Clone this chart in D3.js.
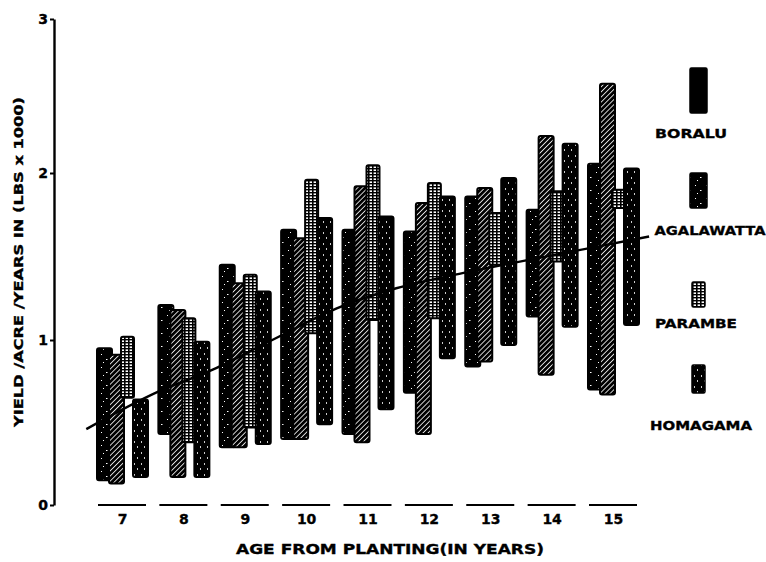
<!DOCTYPE html>
<html>
<head>
<meta charset="utf-8">
<script src="https://cdn.jsdelivr.net/npm/d3@7"></script>
<style>
  html, body { margin: 0; padding: 0; background: #fff; }
  svg { display: block; }
  text { font-family: "DejaVu Sans", "Liberation Sans", Arial, sans-serif; font-weight: bold; fill: #000; stroke: #000; stroke-width: 0.35; }
</style>
</head>
<body>
<svg id="chart" width="766" height="562"></svg>
<script>
// ---- data ----
const ages = [7, 8, 9, 10, 11, 12, 13, 14, 15];
const seriesNames = ["BORALU", "AGALAWATTA", "PARAMBE", "HOMAGAMA"];
const boraluLow  = [0.15, 0.43, 0.35, 0.40, 0.43, 0.68, 0.84, 1.14, 0.70];
const boraluHigh = [0.95, 1.21, 1.45, 1.66, 1.66, 1.65, 1.86, 1.78, 2.06];
const agalLow    = [0.13, 0.17, 0.35, 0.40, 0.38, 0.43, 0.87, 0.79, 0.67];
const agalHigh   = [0.91, 1.18, 1.34, 1.61, 1.92, 1.82, 1.91, 2.24, 2.58];
const paramLow   = [0.65, 0.38, 0.47, 1.04, 1.12, 1.13, 1.45, 1.47, 1.79];
const paramHigh  = [1.02, 1.13, 1.39, 1.96, 2.05, 1.94, 1.76, 1.89, 1.90];
const homaLow    = [0.17, 0.17, 0.37, 0.49, 0.58, 0.89, 0.97, 1.08, 1.09];
const homaHigh   = [0.64, 0.99, 1.29, 1.73, 1.74, 1.86, 1.97, 2.19, 2.03];
const trendAge   = [6.41, 7.6, 8.47, 9.44, 10.49, 11.46, 12.54, 14.61, 15.58];
const trendVal   = [0.46, 0.69, 0.82, 1.00, 1.19, 1.31, 1.40, 1.55, 1.62];
const yTicks = [0, 1, 2, 3];
const yTitle = "YIELD /ACRE /YEARS  IN (LBS x 1000)";
const xTitle = "AGE FROM PLANTING(IN YEARS)";

const lows = [boraluLow, agalLow, paramLow, homaLow];
const highs = [boraluHigh, agalHigh, paramHigh, homaHigh];

const svg = d3.select("#chart");

// ---- patterns ----
const defs = svg.append("defs");
const pSpeck = defs.append("pattern").attr("id", "speck").attr("patternUnits", "userSpaceOnUse")
  .attr("width", 11).attr("height", 13);
pSpeck.append("rect").attr("width", 11).attr("height", 13).attr("fill", "#000");
[[2,3,1,1],[7,8,1.5,1],[4,11,1,1]].forEach(d =>
  pSpeck.append("rect").attr("x", d[0]).attr("y", d[1]).attr("width", d[2]).attr("height", d[3]).attr("fill", "#fff"));

const pHatch = defs.append("pattern").attr("id", "hatch").attr("patternUnits", "userSpaceOnUse")
  .attr("width", 3.6).attr("height", 3.6).attr("patternTransform", "rotate(45)");
pHatch.append("rect").attr("width", 3.6).attr("height", 3.6).attr("fill", "#000");
pHatch.append("rect").attr("x", 0).attr("width", 0.8).attr("height", 3.6).attr("fill", "#fff");

const pGrid = defs.append("pattern").attr("id", "grid").attr("patternUnits", "userSpaceOnUse")
  .attr("width", 4).attr("height", 3);
pGrid.append("rect").attr("width", 4).attr("height", 3).attr("fill", "#fff");
pGrid.append("rect").attr("width", 4).attr("height", 1.4).attr("fill", "#000");
pGrid.append("rect").attr("width", 1.6).attr("height", 3).attr("fill", "#000");

const pDash = defs.append("pattern").attr("id", "dash").attr("patternUnits", "userSpaceOnUse")
  .attr("width", 7).attr("height", 11);
pDash.append("rect").attr("width", 7).attr("height", 11).attr("fill", "#000");
[[1,1,0.8,2],[4,6,0.8,2]].forEach(d =>
  pDash.append("rect").attr("x", d[0]).attr("y", d[1]).attr("width", d[2]).attr("height", d[3]).attr("fill", "#fff"));

const fills = ["url(#speck)", "url(#hatch)", "url(#grid)", "url(#dash)"];
const widths = [15, 15, 13, 15];

// ---- scales ----
const y = d3.scaleLinear().domain([0, 1, 2, 3]).range([505, 340, 173, 19]);
const x = d3.scaleBand().domain(ages).range([97, 639]).paddingInner(0.169).paddingOuter(0);
const sub = d3.scalePoint().domain(seriesNames).range([0, 36]);
const xLin = d3.scaleLinear().domain([7, 15])
  .range([x(7) + x.bandwidth() / 2, x(15) + x.bandwidth() / 2]);

// ---- y axis ----
const yAxis = svg.append("g").attr("transform", "translate(54,0)")
  .call(d3.axisLeft(y).tickValues(yTicks).tickSize(4).tickSizeOuter(0).tickFormat(d3.format("d")));
yAxis.select(".domain").attr("stroke", "#000").attr("stroke-width", 2.4);
yAxis.selectAll(".tick line").attr("stroke", "#000").attr("stroke-width", 2);
yAxis.selectAll(".tick text").attr("font-size", 14).attr("font-weight", "bold")
  .attr("font-family", "'DejaVu Sans', Arial, sans-serif").attr("x", -6).attr("fill", "#000");

svg.append("text").attr("transform", "translate(23,262) rotate(-90)")
  .attr("text-anchor", "middle").attr("font-size", 13)
  .attr("textLength", 330).attr("lengthAdjust", "spacingAndGlyphs").text(yTitle);

// ---- x axis: dashes + labels ----
const xg = svg.append("g");
xg.selectAll("line.dash").data(ages).join("line")
  .attr("x1", d => x(d) + 1).attr("x2", d => x(d) + x.bandwidth() - 2)
  .attr("y1", 505).attr("y2", 505).attr("stroke", "#000").attr("stroke-width", 2);
xg.selectAll("text.lab").data(ages).join("text")
  .attr("x", d => x(d) + x.bandwidth() / 2).attr("y", 524)
  .attr("text-anchor", "middle").attr("font-size", 14).text(d => d);

svg.append("text").attr("x", 390).attr("y", 554).attr("text-anchor", "middle")
  .attr("font-size", 14).attr("textLength", 308).attr("lengthAdjust", "spacingAndGlyphs").text(xTitle);

// ---- bars ----
seriesNames.forEach((name, si) => {
  svg.append("g").selectAll("rect").data(ages).join("rect")
    .attr("x", d => x(d) + sub(name))
    .attr("width", widths[si])
    .attr("y", (d, i) => y(highs[si][i]))
    .attr("height", (d, i) => y(lows[si][i]) - y(highs[si][i]))
    .attr("rx", 2)
    .attr("fill", fills[si])
    .attr("stroke", "#000").attr("stroke-width", 2);
});

// ---- trend curve ----
const trend = trendAge.map((a, i) => [a, trendVal[i]]);
svg.append("path").datum(trend)
  .attr("d", d3.line().x(d => xLin(d[0])).y(d => y(d[1])).curve(d3.curveMonotoneX))
  .attr("fill", "none").attr("stroke", "#000").attr("stroke-width", 2.4);

// ---- legend ----
const legendFills = ["#000", "url(#speck)", "url(#grid)", "url(#dash)"];
const legendBox = [[690, 68, 17, 45], [690, 173, 17, 35], [692, 282, 13, 25], [692, 365, 13, 28]];
const legendText = [[691, 138, 72], [710, 235, 111], [696, 328, 82], [701, 430, 102]];
seriesNames.forEach((name, i) => {
  const b = legendBox[i];
  svg.append("rect").attr("x", b[0]).attr("y", b[1]).attr("width", b[2]).attr("height", b[3])
    .attr("rx", 1.5).attr("fill", legendFills[i]).attr("stroke", "#000").attr("stroke-width", 1.5);
  const t = legendText[i];
  svg.append("text").attr("x", t[0]).attr("y", t[1]).attr("text-anchor", "middle")
    .attr("font-size", 13).attr("textLength", t[2]).attr("lengthAdjust", "spacingAndGlyphs").text(name);
});
</script>
</body>
</html>
